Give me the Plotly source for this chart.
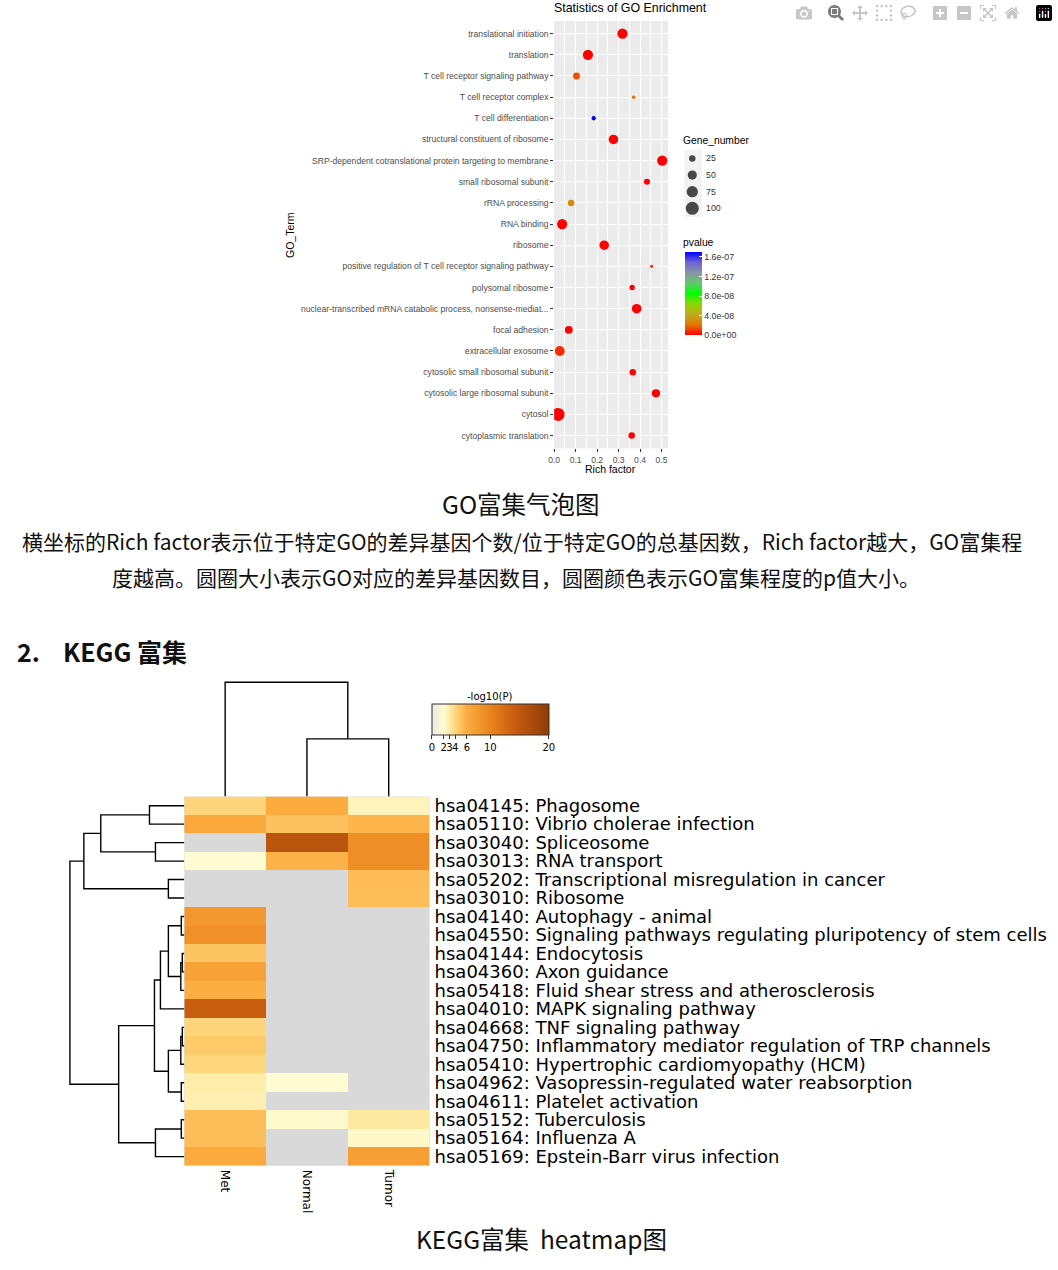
import math
import plotly.graph_objects as go

W, H = 1058, 1270
X_OFF = 4  # horizontal page offset observed in the rendered page

# ---------------- GO bubble data ----------------
GO_TERMS = [
    "translational initiation",
    "translation",
    "T cell receptor signaling pathway",
    "T cell receptor complex",
    "T cell differentiation",
    "structural constituent of ribosome",
    "SRP-dependent cotranslational protein targeting to membrane",
    "small ribosomal subunit",
    "rRNA processing",
    "RNA binding",
    "ribosome",
    "positive regulation of T cell receptor signaling pathway",
    "polysomal ribosome",
    "nuclear-transcribed mRNA catabolic process, nonsense-mediat...",
    "focal adhesion",
    "extracellular exosome",
    "cytosolic small ribosomal subunit",
    "cytosolic large ribosomal subunit",
    "cytosol",
    "cytoplasmic translation",
]
GO_RICH = [0.318, 0.157, 0.104, 0.370, 0.184, 0.276, 0.503, 0.432, 0.079, 0.037,
           0.233, 0.454, 0.363, 0.384, 0.068, 0.026, 0.366, 0.474, 0.018, 0.361]
GO_GENES = [62, 62, 28, 7, 11, 54, 62, 22, 25, 62,
            54, 7, 17, 54, 37, 58, 25, 40, 100, 25]
GO_PVAL = [1e-20, 1e-25, 1.35e-8, 1.8e-8, 1.69e-7, 1e-30, 1e-40, 1e-15, 2.9e-8, 1e-18,
           1e-30, 1.1e-8, 1e-12, 1e-35, 1e-12, 8e-9, 1e-14, 1e-30, 1e-20, 1e-14]

SIZE_LEGEND = [25, 50, 75, 100]
PV_TICKS = [0, 4e-8, 8e-8, 1.2e-7, 1.6e-7]
PV_TICKTEXT = ["0.0e+00", "4.0e-08", "8.0e-08", "1.2e-07", "1.6e-07"]
RICH_TICKS = [0.0, 0.1, 0.2, 0.3, 0.4, 0.5]

# ---------------- KEGG heatmap data ----------------
KEGG_TERMS = [
    "hsa04145: Phagosome",
    "hsa05110: Vibrio cholerae infection",
    "hsa03040: Spliceosome",
    "hsa03013: RNA transport",
    "hsa05202: Transcriptional misregulation in cancer",
    "hsa03010: Ribosome",
    "hsa04140: Autophagy - animal",
    "hsa04550: Signaling pathways regulating pluripotency of stem cells",
    "hsa04144: Endocytosis",
    "hsa04360: Axon guidance",
    "hsa05418: Fluid shear stress and atherosclerosis",
    "hsa04010: MAPK signaling pathway",
    "hsa04668: TNF signaling pathway",
    "hsa04750: Inflammatory mediator regulation of TRP channels",
    "hsa05410: Hypertrophic cardiomyopathy (HCM)",
    "hsa04962: Vasopressin-regulated water reabsorption",
    "hsa04611: Platelet activation",
    "hsa05152: Tuberculosis",
    "hsa05164: Influenza A",
    "hsa05169: Epstein-Barr virus infection",
]
KEGG_COLS = ["Met", "Normal", "Tumor"]
KEGG_MET = [4.0, 6.5, None, 2.0, None, None, 8.0, 8.8, 4.8, 7.0,
            5.9, 14.0, 4.0, 4.5, 3.9, 2.9, 2.8, 5.1, 5.1, 6.2]
KEGG_NORMAL = [6.0, 5.0, 15.5, 5.7, None, None, None, None, None, None,
               None, None, None, None, None, 2.0, None, 2.1, None, None]
KEGG_TUMOR = [2.5, 5.6, 9.0, 9.0, 5.2, 5.1, None, None, None, None,
              None, None, None, None, None, None, None, 3.1, 2.2, 7.3]
LOGP_TICKS = [0, 2, 3, 4, 6, 10, 20]

# linkage: [child_a, child_b, height]; ids >= n refer to earlier merges
ROW_LINKAGE = [
    [0, 1, 35], [2, 3, 29], [20, 21, 84], [4, 5, 16], [22, 23, 101],
    [6, 7, 3], [8, 9, 2], [26, 10, 3.5], [25, 27, 16], [28, 11, 24],
    [12, 13, 2], [30, 14, 3.5], [15, 16, 3], [31, 32, 16], [29, 33, 30],
    [17, 18, 3], [35, 19, 29], [34, 36, 66], [24, 37, 115],
]
COL_LINKAGE = [[1, 2, 57.7], [0, 3, 114.4]]


def px(x):
    return (x - X_OFF) / W


def py(y):
    return 1 - y / H


def dx(a, b):
    return [px(a), px(b)]


def dy(top, bottom):
    return [1 - bottom / H, 1 - top / H]


def dendro_segments(linkage, n):
    pos = {i: float(i) for i in range(n)}
    hgt = {i: 0.0 for i in range(n)}
    p, h = [], []
    for k, (a, b, hh) in enumerate(linkage):
        pa, pb = pos[a], pos[b]
        p += [pa, pa, pb, pb, None]
        h += [hgt[a], hh, hh, hgt[b], None]
        pos[n + k] = (pa + pb) / 2
        hgt[n + k] = hh
    return p, h


def dot_size(v):
    return 1.3 * math.sqrt(v)


PV_SCALE = [
    [0.0, "#FF0000"], [0.125, "#E67800"], [0.25, "#BEAC1F"], [0.375, "#8CD700"],
    [0.5, "#00FF00"], [0.625, "#64C86E"], [0.75, "#8794A5"], [0.875, "#6E64D2"],
    [1.0, "#0000FF"],
]
LOGP_SCALE = [
    [0.00, "#E9E9E1"], [0.10, "#FFFBD2"], [0.15, "#FEEBA6"], [0.20, "#FED57A"],
    [0.30, "#FCAC3F"], [0.50, "#E9841F"], [0.70, "#C85E10"], [1.00, "#8E3B06"],
]

SANS = "Liberation Sans, Arial, sans-serif"
DJ = "DejaVu Sans, sans-serif"
CJK = "Noto Sans CJK SC, sans-serif"

fig = go.Figure()

# GO bubbles
fig.add_trace(go.Scatter(
    x=GO_RICH, y=GO_TERMS, mode="markers", xaxis="x", yaxis="y", showlegend=False,
    marker=dict(size=[dot_size(g) for g in GO_GENES], color=GO_PVAL,
                colorscale=PV_SCALE, cmin=0, cmax=max(GO_PVAL), line=dict(width=0), opacity=1,
                colorbar=dict(x=px(687), xanchor="left", y=py(293.35), yanchor="middle",
                              len=83.3, lenmode="pixels", thickness=16.7, thicknessmode="pixels",
                              outlinewidth=0, ticks="inside", tickcolor="white", ticklen=3,
                              tickvals=PV_TICKS, ticktext=PV_TICKTEXT, xpad=0, ypad=0,
                              tickfont=dict(family=SANS, size=8.8, color="#333333"))),
))

# size legend
fig.add_trace(go.Scatter(
    x=[9.2] * len(SIZE_LEGEND), y=list(range(len(SIZE_LEGEND))), mode="markers",
    xaxis="x5", yaxis="y5", showlegend=False, hoverinfo="skip",
    marker=dict(size=[dot_size(v) for v in SIZE_LEGEND], color="black", line=dict(width=0)),
))

# heatmap
z = [[m, n, t] for m, n, t in zip(KEGG_MET, KEGG_NORMAL, KEGG_TUMOR)]
fig.add_trace(go.Heatmap(
    z=z, x=list(range(len(KEGG_COLS))), y=list(range(len(KEGG_TERMS))),
    xaxis="x2", yaxis="y2", colorscale=LOGP_SCALE, zmin=0, zmax=20,
    colorbar=dict(orientation="h", x=px(432.3), xanchor="left", y=py(704.3), yanchor="top",
                  len=116.7, lenmode="pixels", thickness=30.7, thicknessmode="pixels",
                  outlinewidth=1, outlinecolor="#333333", ticks="outside", ticklen=4,
                  tickcolor="#333333", tickvals=LOGP_TICKS, tickangle=0, xpad=0, ypad=0,
                  tickfont=dict(family=DJ, size=10, color="black")),
))

# row dendrogram
rp, rh = dendro_segments(ROW_LINKAGE, len(KEGG_TERMS))
fig.add_trace(go.Scatter(x=rh, y=rp, mode="lines", xaxis="x3", yaxis="y2",
                         line=dict(color="black", width=1.4), showlegend=False, hoverinfo="skip"))
# column dendrogram
cp, ch = dendro_segments(COL_LINKAGE, len(KEGG_COLS))
fig.add_trace(go.Scatter(x=cp, y=ch, mode="lines", xaxis="x2", yaxis="y4",
                         line=dict(color="black", width=1.4), showlegend=False, hoverinfo="skip"))

hidden = dict(visible=False, showgrid=False, zeroline=False, fixedrange=True)

fig.update_layout(
    width=W, height=H, margin=dict(l=0, r=0, t=0, b=0), autosize=False,
    paper_bgcolor="white", plot_bgcolor="rgba(0,0,0,0)", showlegend=False,
    xaxis=dict(domain=dx(555.3, 670), range=[0, 0.531], anchor="y",
               tickvals=RICH_TICKS, ticktext=[f"{v:.1f}" for v in RICH_TICKS],
               ticks="outside", ticklen=3, tickcolor="#333333", showline=False,
               showgrid=True, gridcolor="white", gridwidth=1, zeroline=False,
               minor=dict(dtick=0.05, tick0=0.05, showgrid=True, gridcolor="white", gridwidth=0.5, ticks=""),
               tickfont=dict(family=SANS, size=8.6, color="#4D4D4D")),
    yaxis=dict(domain=dy(20, 448), anchor="x", type="category",
               categoryorder="array", categoryarray=GO_TERMS[::-1], range=[-0.6, len(GO_TERMS) - 0.4],
               ticks="outside", ticklen=3, tickcolor="#333333", showgrid=True, gridcolor="white",
               gridwidth=1, zeroline=False, tickfont=dict(family=SANS, size=8.6, color="#4D4D4D")),
    xaxis2=dict(domain=dx(183.3, 430), range=[-0.5, 2.5], anchor="y2",
                tickvals=list(range(len(KEGG_COLS))), ticktext=KEGG_COLS, tickangle=90,
                ticks="", showgrid=False, zeroline=False, showline=False, ticklabelstandoff=3,
                tickfont=dict(family=DJ, size=12, color="black")),
    yaxis2=dict(domain=dy(796.7, 1166.7), range=[len(KEGG_TERMS) - 0.5, -0.5], anchor="x2",
                side="right", tickvals=list(range(len(KEGG_TERMS))), ticktext=KEGG_TERMS,
                ticks="", showgrid=False, zeroline=False, showline=False, ticklabelstandoff=4,
                tickfont=dict(family=DJ, size=18, color="black")),
    xaxis3=dict(domain=dx(60, 183.3), range=[123.3, 0], anchor="y2", **hidden),
    yaxis4=dict(domain=dy(675, 796.7), range=[0, 121.7], anchor="x2", **hidden),
    xaxis5=dict(domain=dx(685, 760), range=[0, 75], anchor="y5", **hidden),
    yaxis5=dict(domain=dy(149.3, 216), range=[len(SIZE_LEGEND) - 0.5, -0.5], anchor="x5", **hidden),
)

shapes = [
    dict(type="rect", xref="x domain", yref="y domain", x0=0, x1=1, y0=0, y1=1,
         fillcolor="#EBEBEB", line=dict(width=0), layer="below"),
    dict(type="rect", xref="x2 domain", yref="y2 domain", x0=0, x1=1, y0=0, y1=1,
         fillcolor="#D9D9D9", line=dict(width=0), layer="below"),
    dict(type="rect", xref="x5 domain", yref="y5 domain", x0=0.02, x1=0.25, y0=0, y1=1,
         fillcolor="#F2F2F2", line=dict(width=0), layer="below"),
]
fig.update_layout(shapes=shapes)

ann = []


def add(text, x, y, size, family, color="black", xanchor="center", angle=0, xref="paper", yref="paper"):
    ann.append(dict(text=text, x=x, y=y, xref=xref, yref=yref, xanchor=xanchor, yanchor="middle",
                    showarrow=False, textangle=angle, font=dict(family=family, size=size, color=color)))


add("Statistics of GO Enrichment", px(632), py(7.5), 12.4, SANS)
add("Rich factor", px(612), py(469), 10.5, SANS)
add("GO_Term", px(289), py(234), 10.5, SANS, angle=-90)
add("Gene_number", px(683), py(139.3), 10.3, SANS, xanchor="left")
add("pvalue", px(683), py(242), 10.3, SANS, xanchor="left")
for i, v in enumerate(SIZE_LEGEND):
    add(str(v), 20.7, i, 8.8, SANS, color="#333333", xanchor="left", xref="x5", yref="y5")

add("GO富集气泡图", px(522), py(503), 24.5, CJK, color="#111111")
add("横坐标的Rich factor表示位于特定GO的差异基因个数/位于特定GO的总基因数，Rich factor越大，GO富集程",
    px(523), py(541), 21, CJK, color="#111111")
add("度越高。圆圈大小表示GO对应的差异基因数目，圆圈颜色表示GO富集程度的p值大小。",
    px(517), py(577), 21, CJK, color="#111111")
add("<b>2.</b>", px(13), py(651), 25, CJK, color="#111111", xanchor="left")
add("<b>KEGG 富集</b>", px(59), py(651), 25, CJK, color="#111111", xanchor="left")
add("-log10(P)", px(490.5), py(696.7), 10, DJ)
add("KEGG富集\u00a0\u00a0heatmap图", px(543), py(1239), 24.5, CJK, color="#111111")

fig.update_layout(annotations=ann)

fig.write_html("out.html", post_script="document.body.style.margin='0';document.body.style.padding='0';")
